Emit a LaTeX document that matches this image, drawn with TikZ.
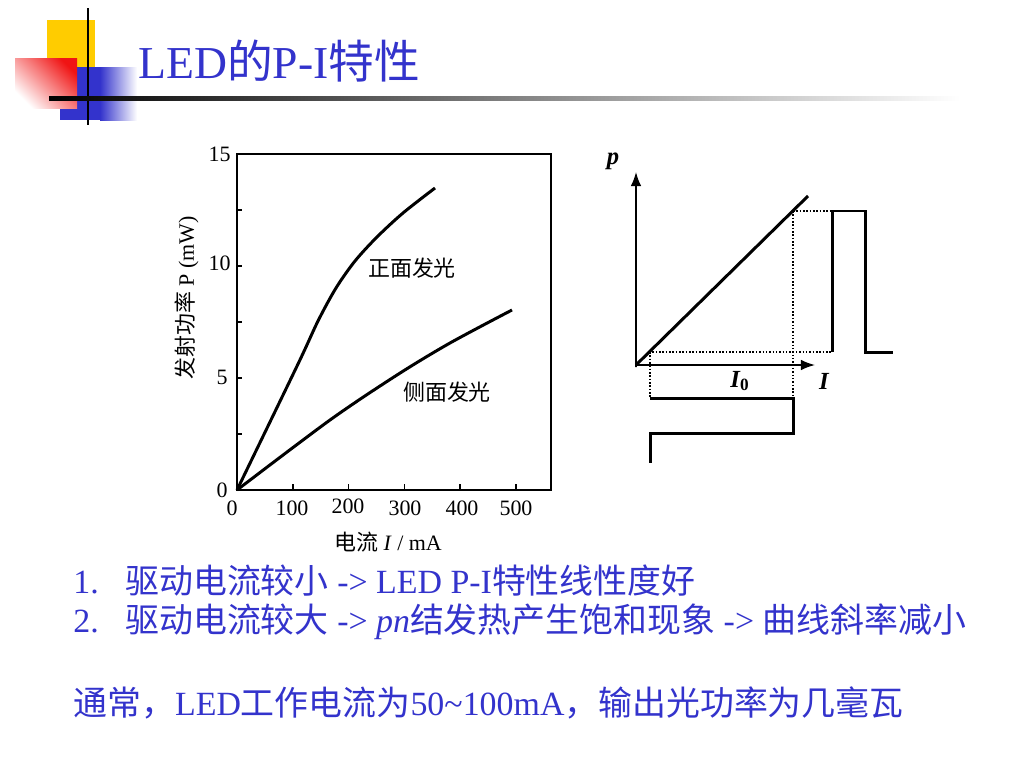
\documentclass[tikz,border=0pt]{standalone}
\usepackage{fontspec}
\setmainfont{Liberation Serif}
\newfontfamily\cjk{Noto Sans CJK SC}
\usetikzlibrary{arrows.meta}
\definecolor{slideblue}{RGB}{51,51,204}
\definecolor{decoyellow}{RGB}{255,204,0}
\definecolor{decoblue}{RGB}{51,51,204}
\definecolor{decored}{RGB}{240,20,20}
\newcommand{\zh}[1]{{\cjk #1}}

\begin{document}
\begin{tikzpicture}[x=0.02cm,y=-0.02cm,
	txt/.style={inner sep=0pt},
	body/.style={txt,anchor=base west,text=slideblue,font=\fontsize{19.3}{23}\selectfont},
	lab/.style={txt,font=\fontsize{12.5}{15}\selectfont},
	pilab/.style={txt,font=\fontsize{14}{16}\selectfont\bfseries\itshape},
	frame/.style={line width=0.9pt},
	thickline/.style={line width=1.7pt},
	dotline/.style={densely dotted,line width=0.9pt}]
	\useasboundingbox (0,0) rectangle (1024,768);
	\fill[white] (0,0) rectangle (1024,768);
	
	% corner decoration
	\fill[decoyellow] (47,20) rectangle (95,67);
	\fill[decoblue] (60,67) rectangle (100,120);
	\shade[left color=decoblue,right color=white] (100,67) rectangle (137,120);
	\shade[top color=decored,bottom color=white,shading angle=-45] (15,58) rectangle (77,108);
	\draw[line width=1.7pt] (88,8) -- (88,125);
	\shade[left color=black,right color=white] (49,96.5) rectangle (960,100);
	\node[txt,anchor=base west,text=slideblue,font=\fontsize{26}{30}\selectfont] (title) at (138,78) {LED\zh{的}P-I\zh{特性}};
	
	% left chart
	\draw[frame] (237,154) rectangle (551,490);
	\foreach \y in {210,266,322,378,434} \draw[frame] (237,\y) -- +(5,0);
	\foreach \x in {292.8,348.6,404.4,460.2,516} \draw[frame] (\x,490) -- +(0,-6);
	\node[lab,anchor=east] (y15) at (231,154) {15};
	\node[lab,anchor=east] (y10) at (231,263) {10};
	\node[lab,anchor=east] (y5) at (228,377) {5};
	\node[lab,anchor=east] (y0) at (228,490) {0};
	\node[lab] (x0) at (232,508) {0};
	\node[lab] (x100) at (292,508) {100};
	\node[lab] (x200) at (348,506) {200};
	\node[lab] (x300) at (405,508) {300};
	\node[lab] (x400) at (462,508) {400};
	\node[lab] (x500) at (516,508) {500};
	\node[lab,rotate=90] (ylab) at (187,298) {\zh{发射功率} P (mW)};
	\node[lab] (xlab) at (388,542) {\zh{电流} \textit{I} / mA};
	
	\draw[thickline] plot[smooth] coordinates {(237,490) (298,364) (318,321) (336,288) (355,261) (377,237) (403,213) (435,188)};
	\draw[thickline] plot[smooth] coordinates {(237,490) (330,420) (397,375) (450,343) (512,310)};
	\node[lab] (front) at (412,268) {\zh{正面发光}};
	\node[lab] (side) at (447,392) {\zh{侧面发光}};
	
	% right sketch
	\coordinate (O) at (636,365);
	\coordinate (ptop) at (636,172);
	\coordinate (iend) at (815,365);
	\coordinate (pmax) at (808,196);
	\draw[frame,{Latex[length=8pt,width=6pt]}-{Latex[length=8pt,width=6pt]}] (ptop) -- (636,367) -- (O) -- (iend);
	\node[pilab] (plab) at (613,161) {p};
	\node[pilab] (ilab) at (824,381) {I};
	\node[pilab] (i0lab) at (740,381) {I\textsubscript{\upshape 0}};
	\draw[thickline] (O) -- (pmax);
	
	\draw[dotline] (649,352) -- (832,352);
	\draw[dotline] (650,352) -- (650,398);
	\draw[dotline] (793,211) -- (833,211);
	\draw[dotline] (793,211) -- (793,398);
	
	\draw[thickline] (832,352) -- (832,211) -- (865,211) -- (865,352) -- (893,352);
	\draw[thickline] (650,398) -- (793,398) -- (793,433) -- (650,433) -- (650,463);
	
	% notes
	\node[body] (n1) at (73,593) {1.};
	\node[body] (l1) at (125,593) {\zh{驱动电流较小} -> LED P-I\zh{特性线性度好}};
	\node[body] (n2) at (73,632) {2.};
	\node[body] (l2) at (125,632) {\zh{驱动电流较大} -> \textit{pn}\zh{结发热产生饱和现象} -> \zh{曲线斜率减小}};
	\node[body] (l3) at (73,715) {\zh{通常，}LED\zh{工作电流为}50\textasciitilde100mA\zh{，输出光功率为几毫瓦}};
\end{tikzpicture}
\end{document}
